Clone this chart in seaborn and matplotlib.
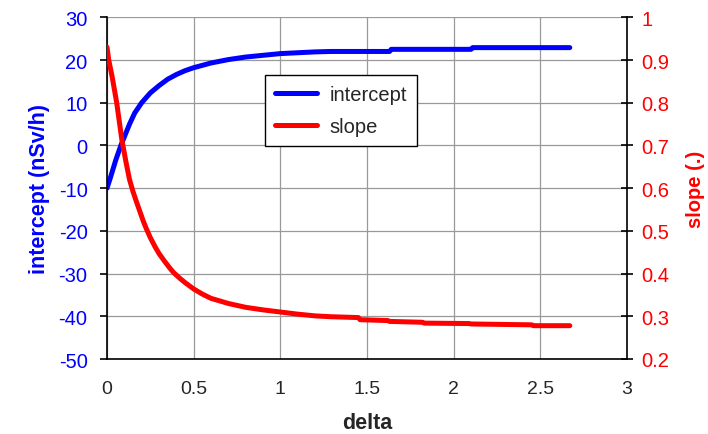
import matplotlib
matplotlib.use("Agg")
import matplotlib.pyplot as plt
from matplotlib.lines import Line2D
import seaborn as sns
import pandas as pd

# ---- data ----
delta_int = [0.00, 0.02, 0.05, 0.08, 0.10, 0.13, 0.16, 0.20, 0.25, 0.30, 0.35,
             0.40, 0.45, 0.50, 0.60, 0.70, 0.80, 0.90, 1.00, 1.10, 1.20, 1.29,
             1.63, 1.64, 2.10, 2.11, 2.67]
intercept = [-10.0, -7.5, -3.5, 0.0, 2.0, 5.0, 7.6, 10.0, 12.3, 14.0, 15.5,
             16.6, 17.5, 18.2, 19.3, 20.1, 20.7, 21.1, 21.5, 21.7, 21.9, 22.0,
             22.0, 22.5, 22.5, 22.9, 22.9]

delta_slope = [0.00, 0.01, 0.03, 0.056, 0.085, 0.11, 0.13, 0.15, 0.17, 0.19,
               0.21, 0.227, 0.25, 0.277, 0.30, 0.33, 0.36, 0.385, 0.42, 0.45,
               0.50, 0.55, 0.60, 0.70, 0.80, 0.90, 1.00, 1.10, 1.20, 1.29,
               1.45, 1.46, 1.62, 1.63, 1.82, 1.83, 2.09, 2.10, 2.45, 2.46, 2.67]
slope = [0.93, 0.90, 0.86, 0.80, 0.715, 0.66, 0.62, 0.592, 0.568, 0.545,
         0.522, 0.505, 0.484, 0.463, 0.447, 0.43, 0.414, 0.402, 0.389, 0.379,
         0.364, 0.352, 0.342, 0.330, 0.321, 0.315, 0.310, 0.305, 0.301, 0.299,
         0.297, 0.292, 0.290, 0.288, 0.286, 0.284, 0.283, 0.282, 0.280, 0.278,
         0.278]

x_ticks = [0, 0.5, 1, 1.5, 2, 2.5, 3]
x_tick_labels = ["0", "0.5", "1", "1.5", "2", "2.5", "3"]
left_ticks = [-50, -40, -30, -20, -10, 0, 10, 20, 30]
right_ticks = [0.2, 0.3, 0.4, 0.5, 0.6, 0.7, 0.8, 0.9, 1.0]
right_tick_labels = ["0.2", "0.3", "0.4", "0.5", "0.6", "0.7", "0.8", "0.9", "1"]

df_int = pd.DataFrame({"delta": delta_int, "intercept": intercept})
df_slope = pd.DataFrame({"delta": delta_slope, "slope": slope})

sns.set_style("white")
plt.rcParams['font.family'] = ['Liberation Sans', 'DejaVu Sans']

BLUE = "#0000FF"
RED = "#FF0000"

fig = plt.figure(figsize=(7.08, 4.35), dpi=100)
ax = fig.add_axes([107 / 708, 1 - 360 / 435, 520 / 708, (360 - 18.3) / 435])
ax2 = ax.twinx()

sns.lineplot(data=df_int, x="delta", y="intercept", ax=ax, color=BLUE,
             lw=3.6, estimator=None, sort=False, legend=False)
sns.lineplot(data=df_slope, x="delta", y="slope", ax=ax2, color=RED,
             lw=3.6, estimator=None, sort=False, legend=False)

ax.set_xlim(0, 3)
ax.set_ylim(-50, 30)
ax2.set_ylim(0.2, 1.0)

ax.set_xticks(x_ticks)
ax.set_xticklabels(x_tick_labels, fontsize=14)
ax.set_yticks(left_ticks)
ax.set_yticklabels([str(t) for t in left_ticks], fontsize=14.5, color=BLUE)
ax2.set_yticks(right_ticks)
ax2.set_yticklabels(right_tick_labels, fontsize=14.5, color=RED)

ax.grid(True, color="#999999", lw=0.9)
ax.set_axisbelow(True)

for a in (ax, ax2):
    a.spines["top"].set_visible(False)
    for s in ("left", "bottom", "right"):
        a.spines[s].set_color("black")
        a.spines[s].set_linewidth(1.2)
ax.spines["right"].set_visible(False)
ax2.spines["left"].set_visible(False)
ax2.spines["bottom"].set_visible(False)

ax.tick_params(axis="x", direction="out", length=5, width=1.2, color="black", pad=10)
ax.tick_params(axis="y", direction="out", length=5, width=1.2, color="black", pad=9)
ax2.tick_params(axis="y", direction="inout", length=9, width=1.2, color="black", pad=6)

ax.set_xlabel("delta", fontsize=15.5, fontweight="bold", labelpad=11)
ax.set_ylabel("intercept (nSv/h)", fontsize=15.5, fontweight="bold", color=BLUE, labelpad=6)
ax2.set_ylabel("slope (.)", fontsize=14.5, fontweight="bold", color=RED, labelpad=12)

handles = [Line2D([], [], color=BLUE, lw=3.6), Line2D([], [], color=RED, lw=3.6)]
leg = fig.legend(handles, ["intercept", "slope"], loc="upper left",
                 bbox_to_anchor=(265 / 708, 1 - 76 / 435), fontsize=14.5,
                 frameon=True, fancybox=False, framealpha=1, edgecolor="black",
                 handlelength=2.1, handletextpad=0.6, borderpad=0.5,
                 labelspacing=0.65, borderaxespad=0)
leg.get_frame().set_linewidth(1.0)

fig.savefig("out.png", dpi=100)
